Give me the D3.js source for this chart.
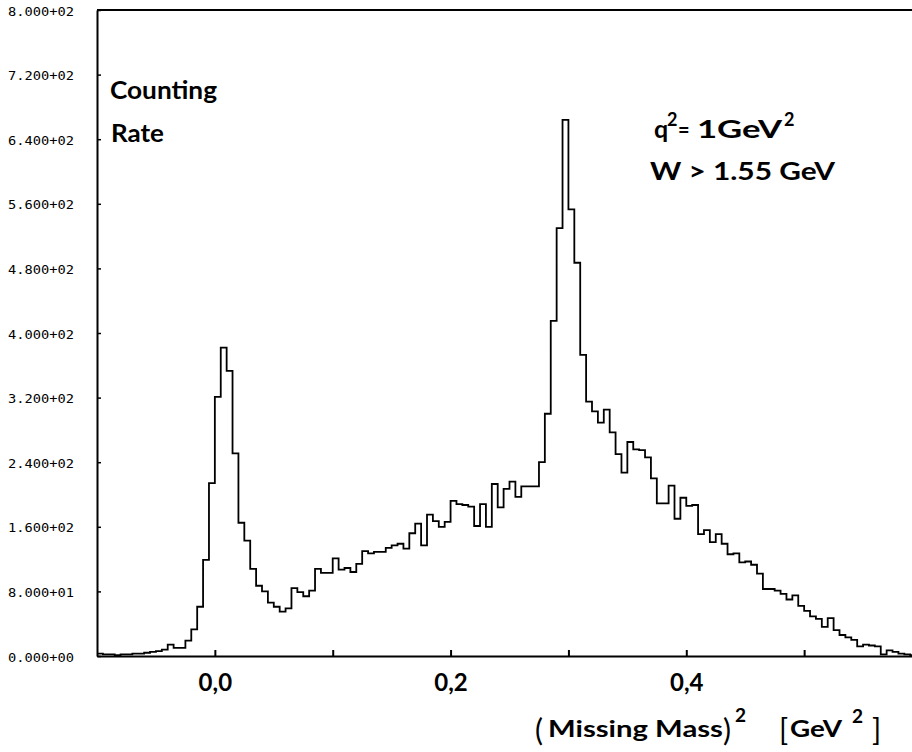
<!DOCTYPE html>
<html><head><meta charset="utf-8">
<script src="https://cdn.jsdelivr.net/npm/d3@7"></script>
<style>body{margin:0;background:#fff} svg{display:block}</style>
</head><body>
<svg id="c" width="912" height="752"></svg>
<script>
// ---- data ----
const binStart = -0.1;
const binWidth = 0.005;
const counts = [
  3,2,2,1,2,2,3,3,
  4,5,6,8,14,10,10,
  19,33,61,119,214,321,382,
  353,251,165,143,108,87,80,66,
  61,55,59,84,79,74,81,108,103,103,
  121,107,109,104,114,130,127,129,129,134,
  137,139,133,152,164,137,175,167,160,166,
  192,188,187,185,161,188,160,213,184,207,
  216,197,210,210,210,240,300,415,530,664,
  553,487,373,315,303,289,305,277,250,227,
  265,256,255,246,220,189,189,211,170,196,
  186,187,151,156,141,151,139,126,127,116,
  117,113,102,83,83,81,77,70,75,62,
  56,49,46,36,47,32,26,23,20,12,
  14,13,12,2,7,5,3,2,1,1
];
const yTicks = [0,80,160,240,320,400,480,560,640,720,800];
const yTickLabels = ["0.000+00","8.000+01","1.600+02","2.400+02","3.200+02","4.000+02","4.800+02","5.600+02","6.400+02","7.200+02","8.000+02"];
const xTicks = [0,0.1,0.2,0.3,0.4,0.5];
const xLabelTicks = [0,0.2,0.4];
const xTickLabels = ["0,0","0,2","0,4"];

// ---- chart ----
const svg = d3.select("#c");
const x = d3.scaleLinear().domain([-0.1,0.6]).range([97,922]);
const y = d3.scaleLinear().domain([0,800]).range([656,10]);
const sans = "Lato, 'Open Sans', sans-serif";

// frame top
svg.append("line").attr("x1",x(-0.1)).attr("x2",x(0.6)).attr("y1",y(800)).attr("y2",y(800))
  .attr("stroke","#000").attr("stroke-width",2);

// histogram
const pts = counts.map((v,i)=>({x:binStart+i*binWidth, v}));
pts.push({x:binStart+counts.length*binWidth, v:counts[counts.length-1]});
const line = d3.line().x(d=>x(d.x)).y(d=>y(d.v)).curve(d3.curveStepAfter);
svg.append("path").attr("d",line(pts)).attr("fill","none")
  .attr("stroke","#000").attr("stroke-width",1.8).attr("stroke-linejoin","miter");

// y axis
const yAxis = d3.axisLeft(y).tickValues(yTicks).tickSizeInner(-4).tickSizeOuter(0)
  .tickPadding(23).tickFormat((d,i)=>yTickLabels[i]);
const gy = svg.append("g").attr("transform",`translate(${x(-0.1)},0)`).call(yAxis);
gy.select(".domain").attr("stroke-width",2);
gy.selectAll(".tick line").attr("stroke-width",1.5);
gy.selectAll(".tick text").attr("font-family","'DejaVu Sans Mono', monospace")
  .attr("font-size",11.5).attr("fill","#000").attr("dy","0.45em")
  .attr("textLength",66).attr("lengthAdjust","spacingAndGlyphs");

// x axis ticks
const xAxis = d3.axisBottom(x).tickValues(xTicks).tickSizeInner(-6).tickSizeOuter(0).tickFormat("");
const gx = svg.append("g").attr("transform",`translate(0,${y(0)})`).call(xAxis);
gx.select(".domain").attr("stroke-width",2);
gx.selectAll(".tick line").attr("stroke-width",2);

// x labels
const xLab = d3.axisBottom(x).tickValues(xLabelTicks).tickSize(0).tickPadding(18)
  .tickFormat((d,i)=>xTickLabels[i]);
const gxl = svg.append("g").attr("transform",`translate(0,${y(0)})`).call(xLab);
gxl.select(".domain").remove();
gxl.selectAll(".tick text").attr("font-family",sans).attr("font-weight","bold")
  .attr("font-size",24).attr("fill","#000");

// annotations
function txt(s, px, py, fs, opts={}) {
  const t = svg.append("text").attr("x",px).attr("y",py).text(s)
    .attr("font-family",sans).attr("font-weight",opts.w||"bold").attr("font-size",fs).attr("fill","#000");
  if (opts.len) t.attr("textLength",opts.len).attr("lengthAdjust","spacingAndGlyphs");
  return t;
}
txt("Counting",110,99,25,{len:107});
txt("Rate",111,142,25,{len:53});

txt("q",654,138,25);
txt("2",667,126,18);
txt("=",678,137,20);
txt("1GeV",697,138,24,{len:85});
txt("2",784,126,18);
txt("W  >  1.55  GeV",650,180,24,{len:185});

txt("(",535,741,30,{w:"normal"});
txt("Missing  Mass",548,737,23,{len:175});
txt(")",723,741,30,{w:"normal"});
txt("2",735,722,19);
txt("[",779,741,30,{w:"normal"});
txt("GeV",790,737,23,{len:52});
txt("2",852,723,19);
txt("]",872,741,30,{w:"normal"});
</script>
</body></html>
